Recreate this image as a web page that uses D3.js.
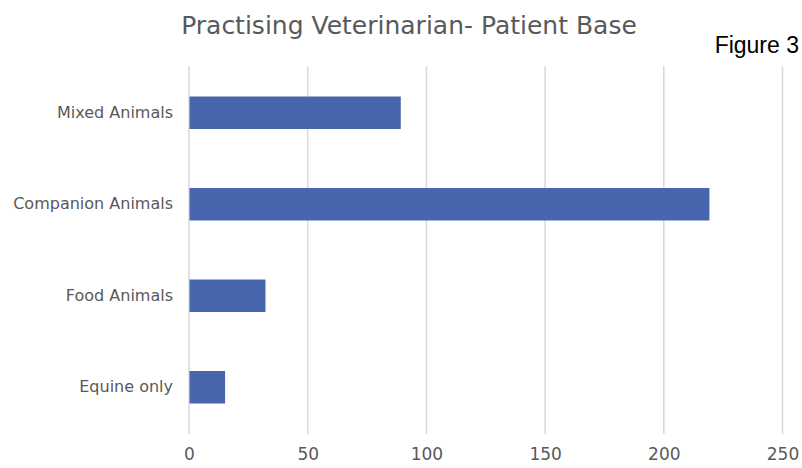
<!DOCTYPE html>
<html>
<head>
<meta charset="utf-8">
<script src="https://cdn.jsdelivr.net/npm/d3@7"></script>
<style>
  body { margin: 0; background: #fff; }
  svg { display: block; }
</style>
</head>
<body>
<div id="chart"></div>
<script>
  // data
  var categories = ['Mixed Animals', 'Companion Animals', 'Food Animals', 'Equine only'];
  var patients = [89, 219, 32, 15];
  var xTicks = [0, 50, 100, 150, 200, 250];

  var width = 802,
    height = 468;

  var margin = { top: 67, right: 19.5, bottom: 35, left: 189 };

  var labelFont = '"DejaVu Sans", "Open Sans", sans-serif';

  var svg = d3.select('#chart').append('svg')
    .attr('width', width)
    .attr('height', height);

  var x = d3.scaleLinear()
    .domain([0, 250])
    .range([margin.left, width - margin.right]);

  var y = d3.scaleBand()
    .domain(categories)
    .range([margin.top, height - margin.bottom])
    .paddingInner(0.645)
    .paddingOuter(0.3225);

  // gridlines
  svg.append('g')
    .selectAll('line')
    .data(xTicks)
    .join('line')
    .attr('x1', function(d) { return x(d); })
    .attr('x2', function(d) { return x(d); })
    .attr('y1', margin.top - 1)
    .attr('y2', height - margin.bottom + 1)
    .attr('stroke', '#d9d9d9')
    .attr('stroke-width', 1.5);

  // bars
  svg.append('g')
    .selectAll('rect')
    .data(patients)
    .join('rect')
    .attr('x', x(0) + 0.5)
    .attr('y', function(d, i) { return y(categories[i]); })
    .attr('width', function(d) { return x(d) - x(0); })
    .attr('height', y.bandwidth())
    .attr('fill', '#4866ad');

  // x axis labels
  var xAxis = d3.axisBottom(x).tickValues(xTicks).tickSize(0).tickPadding(15);
  var gx = svg.append('g')
    .attr('transform', 'translate(0,' + (height - margin.bottom) + ')')
    .call(xAxis);
  gx.select('.domain').remove();
  gx.selectAll('text')
    .attr('font-family', labelFont)
    .attr('font-size', 17)
    .attr('fill', '#595959');

  // y axis labels
  var yAxis = d3.axisLeft(y).tickSize(0).tickPadding(16);
  var gy = svg.append('g')
    .attr('transform', 'translate(' + margin.left + ',0)')
    .call(yAxis);
  gy.select('.domain').remove();
  gy.selectAll('text')
    .attr('font-family', labelFont)
    .attr('font-size', 16)
    .attr('fill', '#595959');

  // title
  svg.append('text')
    .attr('x', 409)
    .attr('y', 34)
    .attr('text-anchor', 'middle')
    .attr('font-family', labelFont)
    .attr('font-size', 25)
    .attr('fill', '#595959')
    .text('Practising Veterinarian- Patient Base');

  svg.append('text')
    .attr('x', 799)
    .attr('y', 53)
    .attr('text-anchor', 'end')
    .attr('font-family', '"Liberation Sans", Arial, sans-serif')
    .attr('font-size', 23)
    .attr('fill', '#000')
    .text('Figure 3');
</script>
</body>
</html>
